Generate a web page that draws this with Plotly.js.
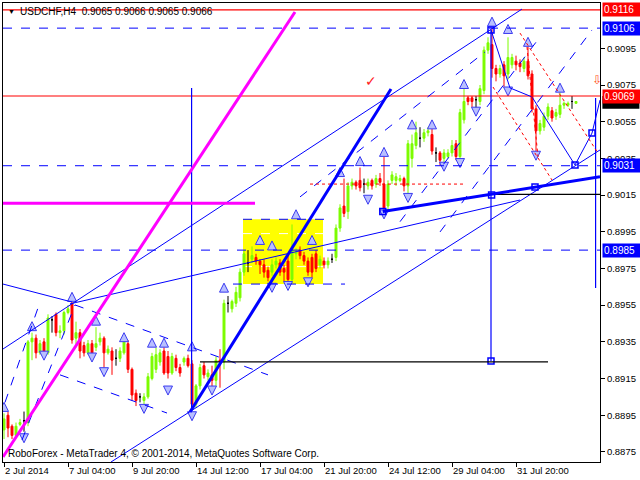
<!DOCTYPE html>
<html><head><meta charset="utf-8">
<script src="https://cdn.plot.ly/plotly-3.0.1.min.js"></script>
<style>html,body{margin:0;padding:0;background:#fff}#chart{width:640px;height:480px}</style>
</head><body><div id="chart"></div>
<script>
// ---- USDCHF H4 candles (bar index 0..143) ----
const openP = [.8887,.8895,.8889,.8884,.8890,.8892,.8891,.8935,.8937,.8929,.8935,.8929,.8947,.8950,.8940,.8941,.8951,.8956,.8937,.8940,
.8933,.8929,.8934,.8932,.8935,.8937,.8929,.8930,.8926,.8926,.8929,.8934,.8920,.8907,.8905,.8903,.8905,.8915,.8920,.8924,
.8930,.8927,.8918,.8926,.8921,.8924,.8926,.8923,.8901,.8911,.8922,.8916,.8917,.8914,.8925,.8924,.8956,.8953,.8956,.8959,
.8973,.8978,.8980,.8981,.8979,.8977,.8974,.8973,.8977,.8978,.8975,.8979,.8969,.8983,.8985,.8982,.8979,.8981,.8983,.8977,
.8979,.8977,.8980,.8981,.8997,.9009,.9006,.9020,.9022,.9023,.9021,.9020,.9023,.9021,.9024,.9021,.9009,.9023,.9023,.9023,
.9024,.9020,.9035,.9042,.9046,.9046,.9049,.9048,.9038,.9038,.9035,.9036,.9038,.9043,.9036,.9056,.9068,.9068,.9067,.9066,
.9072,.9094,.9097,.9084,.9081,.9086,.9081,.9086,.9088,.9087,.9084,.9088,.9081,.9062,.9050,.9052,.9058,.9061,.9058,.9059,
.9064,.9064,.9066,.9065];
const highP = [.8896,.8897,.8890,.8891,.8893,.8897,.8936,.8940,.8939,.8936,.8937,.8950,.8949,.8951,.8944,.8952,.8955,.8957,.8946,.8942,
.8935,.8936,.8936,.8943,.8940,.8938,.8933,.8932,.8931,.8932,.8936,.8936,.8921,.8909,.8907,.8907,.8918,.8929,.8932,.8931,
.8932,.8930,.8929,.8928,.8923,.8927,.8928,.8925,.8912,.8923,.8924,.8920,.8922,.8927,.8931,.8958,.8960,.8958,.8965,.8975,
.8985,.8985,.8987,.8983,.8980,.8980,.8976,.8980,.8981,.8980,.8977,.8983,.8999,.8986,.8987,.8984,.8981,.8983,.8985,.8982,
.8981,.8981,.8983,.8999,.9010,.9024,.9022,.9024,.9023,.9030,.9024,.9024,.9024,.9026,.9027,.9036,.9023,.9028,.9027,.9026,
.9025,.9045,.9048,.9055,.9052,.9051,.9052,.9051,.9041,.9039,.9040,.9040,.9045,.9045,.9062,.9073,.9069,.9069,.9069,.9075,
.9096,.9101,.9106,.9086,.9086,.9088,.9101,.9092,.9091,.9089,.9090,.9096,.9083,.9064,.9056,.9060,.9065,.9063,.9062,.9071,
.9066,.9066,.9069,.9066];
const lowP = [.8882,.8883,.8882,.8883,.8889,.8886,.8889,.8925,.8926,.8928,.8927,.8928,.8940,.8938,.8937,.8939,.8950,.8934,.8932,.8926,
.8927,.8928,.8927,.8930,.8933,.8921,.8928,.8917,.8922,.8924,.8928,.8918,.8903,.8900,.8902,.8899,.8904,.8914,.8918,.8922,
.8917,.8915,.8917,.8919,.8916,.8922,.8921,.8899,.8899,.8909,.8915,.8914,.8907,.8911,.8910,.8920,.8951,.8951,.8954,.8957,
.8971,.8973,.8978,.8977,.8972,.8970,.8968,.8971,.8975,.8971,.8968,.8966,.8967,.8980,.8980,.8977,.8971,.8970,.8973,.8975,
.8975,.8975,.8978,.8979,.8995,.9003,.9002,.9018,.9018,.9017,.9016,.9018,.9018,.9019,.9020,.9006,.9007,.9021,.9020,.9022,
.9017,.9014,.9030,.9040,.9041,.9044,.9047,.9037,.9033,.9031,.9033,.9035,.9036,.9034,.9034,.9054,.9064,.9063,.9060,.9064,
.9070,.9092,.9079,.9077,.9079,.9074,.9078,.9084,.9083,.9082,.9082,.9078,.9060,.9038,.9048,.9050,.9056,.9055,.9056,.9057,
.9062,.9063,.9062,.9065];
const closeP = [.8893,.8888,.8884,.8889,.8891,.8892,.8935,.8937,.8929,.8934,.8929,.8948,.8947,.8940,.8941,.8951,.8953,.8936,.8940,.8930,
.8929,.8934,.8929,.8934,.8937,.8929,.8931,.8925,.8926,.8930,.8935,.8920,.8906,.8903,.8905,.8905,.8916,.8927,.8928,.8929,
.8918,.8918,.8927,.8921,.8918,.8926,.8922,.8901,.8911,.8921,.8917,.8918,.8914,.8925,.8924,.8956,.8956,.8957,.8962,.8973,
.8983,.8978,.8982,.8979,.8977,.8973,.8970,.8977,.8979,.8973,.8973,.8969,.8985,.8984,.8982,.8979,.8973,.8973,.8975,.8980,
.8977,.8979,.8980,.8997,.9008,.9005,.9020,.9022,.9020,.9019,.9021,.9022,.9020,.9024,.9022,.9008,.9021,.9026,.9025,.9024,
.9020,.9043,.9043,.9049,.9046,.9049,.9050,.9039,.9038,.9034,.9038,.9038,.9042,.9036,.9060,.9066,.9066,.9066,.9067,.9073,
.9094,.9098,.9084,.9081,.9084,.9080,.9090,.9090,.9086,.9085,.9088,.9080,.9062,.9050,.9054,.9058,.9063,.9057,.9060,.9064,
.9065,.9065,.9066,.9066];

// x-axis labels every 16 bars
const xTickBars = [0,16,32,48,64,80,96,112,128];
const xTickText = ["2 Jul 2014","7 Jul 04:00","9 Jul 20:00","14 Jul 12:00","17 Jul 04:00","21 Jul 20:00","24 Jul 12:00","29 Jul 04:00","31 Jul 20:00"];
// price scale labels (0.9115 is hidden behind the 0.9116 level label)
const yTickVals = [0.8875,0.8895,0.8915,0.8935,0.8955,0.8975,0.8995,0.9015,0.9035,0.9055,0.9075,0.9095];

// fractal arrows
const fractalUpBar = [0,7,17,23,30,37,40,47,55,64,67,73,77,84,89,95,102,107,115,122,126,131,139];
const fractalUpPrice = [0.8902,0.8946,0.8962,0.8949,0.8940,0.8937,0.8937,0.8935,0.8967,0.8993,0.8990,0.9007,0.8993,0.9030,0.9036,0.9041,0.9056,0.9056,0.9078,0.9112,0.9108,0.9101,0.9076];
const fractalDnBar = [5,10,22,25,35,41,47,52,67,71,76,91,95,101,110,114,118,126,133];
const fractalDnPrice = [0.8880,0.8925,0.8924,0.8916,0.8896,0.8906,0.8892,0.8906,0.8962,0.8963,0.8965,0.9010,0.9002,0.9011,0.9028,0.9030,0.9058,0.9069,0.9034];

// horizontal levels
const redLevels = [0.9116, 0.9069];
const blueDashLevels = [0.9106, 0.9031, 0.8985];
const labelValues = [0.9116, 0.9106, 0.9069, 0.9031, 0.8985];
const labelKinds  = ['red','blue','red','blue','blue'];
const currentPrice = 0.9066;

// drawn objects: [bar0, price0, bar1, price1]
const thinBlueLines = [
  [-0.25,0.89311,129.5,0.91164],
  [26.75,0.88695,149,0.90396],
  [-0.25,0.89665,17,0.89567],
  [16.5,0.89557,129,0.90123],
  [121.75,0.9105,126.5,0.90734],
  [126.5,0.90734,132,0.90685],
  [132,0.90685,142.75,0.90314],
  [142.75,0.90314,147,0.90488],
  [147,0.90488,149,0.90668]
];
const thickBlueLines = [
  [94.7,0.9006,149,0.9025],
  [46.5,0.88968,96.75,0.90728]
];
const blueVerticals = [
  [46.9,0.90734,46.9,0.8898],
  [121.75,0.9105,121.75,0.89246],
  [147.9,0.90679,147.9,0.89644]
];
const blackLines = [
  [49,0.89241,136,0.89241],
  [121.75,0.90154,149,0.90154]
];
const magentaLines = [
  [-0.25,0.90105,62.75,0.90105],
  [-0.25,0.88723,72.75,0.91148]
];
const blueDashLines = [
  [17.75,0.89551,66,0.8917],
  [14,0.8917,40.75,0.88962],
  [0.25,0.8902,8.5,0.89535],
  [4.5,0.88815,17.75,0.89551],
  [74,0.9014,120.25,0.9093],
  [99,0.90005,134,0.91012],
  [109,0.89949,147,0.9105],
  [59.75,0.90018,82.25,0.90018],
  [57.25,0.89665,85.25,0.89665]
];
const redDotLines = [
  [129,0.91033,148.5,0.90379],
  [130.75,0.90957,133.5,0.90358],
  [122.25,0.90739,137,0.90232],
  [76.5,0.9021,114.75,0.9021]
];
const whiteDashLines = [
  [59.75,0.8994,79.75,0.8994],
  [59.75,0.8976,79.75,0.8976]
];
const yellowBox = [59.75,0.90018,79.75,0.89665];
const anchorBar = [121.75,121.75,94.7,121.9,132.75,142.75,147];
const anchorPrice = [0.9105,0.89246,0.9006,0.9015,0.90194,0.90314,0.90488];

// ---- build ----
const Y_RANGE = [0.88695,0.91197];
const bars = openP.map((_,i)=>i);
function subset(pred){
  const r={x:[],open:[],high:[],low:[],close:[]};
  bars.forEach(i=>{ if(pred(i)){ r.x.push(i); r.open.push(openP[i]); r.high.push(highP[i]); r.low.push(lowP[i]); r.close.push(closeP[i]); } });
  return r;
}
function candle(d,col){
  return Object.assign({type:'candlestick', hoverinfo:'skip',
    increasing:{line:{color:col,width:1},fillcolor:col},
    decreasing:{line:{color:col,width:1},fillcolor:col}}, d);
}
const GREEN='#7CFC00', RED='#FF0000';
const traces = [
  candle(subset(i=>closeP[i]>openP[i]),GREEN),
  candle(subset(i=>closeP[i]<openP[i]),RED),
  candle(subset(i=>closeP[i]===openP[i]),'#000000'),
  {type:'scatter',mode:'markers',x:fractalUpBar,y:fractalUpPrice,hoverinfo:'skip',
   marker:{symbol:'arrow-up',size:9,color:'#b8bfff',line:{color:'#3a3af0',width:1}}},
  {type:'scatter',mode:'markers',x:fractalDnBar,y:fractalDnPrice,hoverinfo:'skip',
   marker:{symbol:'arrow-down',size:9,color:'#b8bfff',line:{color:'#3a3af0',width:1}}},
  {type:'scatter',mode:'markers',x:anchorBar,y:anchorPrice,hoverinfo:'skip',
   marker:{symbol:'square-open',size:6,color:'#0000ff',line:{width:1.5}}}
];

const shapes = [];
function seg(a,color,width,dash,layer){
  shapes.push({type:'line',xref:'x',yref:'y',x0:a[0],y0:a[1],x1:a[2],y1:a[3],
    line:{color:color,width:width,dash:dash||'solid'},layer:layer||'above'});
}
shapes.push({type:'rect',xref:'x',yref:'y',x0:yellowBox[0],y0:yellowBox[1],x1:yellowBox[2],y1:yellowBox[3],
  fillcolor:'#ffff00',line:{width:0},layer:'below'});
whiteDashLines.forEach(a=>seg(a,'#ffffff',1,'dash','below'));
redLevels.forEach(p=>shapes.push({type:'line',xref:'paper',yref:'y',x0:0,x1:1,y0:p,y1:p,line:{color:RED,width:1.2}}));
blueDashLevels.forEach(p=>shapes.push({type:'line',xref:'paper',yref:'y',x0:0,x1:1,y0:p,y1:p,line:{color:'#0000ff',width:1,dash:'dash'}}));
thinBlueLines.forEach(a=>seg(a,'#0000ff',1));
blueDashLines.forEach(a=>seg(a,'#0000ff',1,'dash'));
blueVerticals.forEach(a=>seg(a,'#0000ff',1.2));
blackLines.forEach(a=>seg(a,'#000000',1.2));
redDotLines.forEach(a=>seg(a,RED,1,'dot'));
thickBlueLines.forEach(a=>seg(a,'#0000ff',3));
magentaLines.forEach(a=>seg(a,'#ff00ff',3));
// current-price marker on the scale (mostly hidden behind the 0.9069 label)
const toPaper = p => (p - Y_RANGE[0]) / (Y_RANGE[1] - Y_RANGE[0]);
shapes.push({type:'rect',xref:'paper',yref:'paper',x0:1.004,x1:1.066,
  y0:toPaper(currentPrice-0.0004),y1:toPaper(currentPrice+0.0003),
  fillcolor:'#000000',line:{width:0},layer:'above'});

const labelColors = {red:'#ff0000', blue:'#0000ff', black:'#000000'};
const annotations = labelValues.map((v,k)=>({
  xref:'paper',yref:'y',x:1,y:v,xanchor:'left',yanchor:'middle',xshift:2,
  text:v.toFixed(4),showarrow:false,bgcolor:labelColors[labelKinds[k]],
  font:{color:'#ffffff',size:10,family:'Liberation Sans, Arial, sans-serif'},
  width:35,height:11,align:'left',borderpad:1
}));
annotations.push(
  {xref:'paper',yref:'paper',x:0,y:1,xanchor:'left',yanchor:'top',xshift:3,yshift:-3,showarrow:false,
   text:'▼',font:{size:7,color:'#000'}},
  {xref:'paper',yref:'paper',x:0,y:1,xanchor:'left',yanchor:'top',xshift:15,yshift:-1,showarrow:false,
   text:'USDCHF,H4  0.9065 0.9066 0.9065 0.9066',font:{size:10,color:'#000'}},
  {xref:'paper',yref:'paper',x:0,y:0,xanchor:'left',yanchor:'bottom',xshift:3,yshift:1,showarrow:false,
   text:'RoboForex - MetaTrader 4, © 2001-2014, MetaQuotes Software Corp.',font:{size:10,color:'#000'}},
  {xref:'x',yref:'y',x:91.8,y:0.9077,showarrow:false,text:'✓',font:{size:14,color:'#ff2020'}},
  {xref:'x',yref:'y',x:148.3,y:0.9078,showarrow:false,text:'⇩',font:{size:12,color:'#ff5020'}}
);

const layout = {
  width:640,height:480,
  margin:{l:3,r:40,t:3,b:18,pad:0},
  paper_bgcolor:'#ffffff',plot_bgcolor:'#ffffff',
  showlegend:false,
  font:{family:'Liberation Sans, Arial, sans-serif',size:9,color:'#000'},
  xaxis:{range:[-0.25,149],tickmode:'array',tickvals:xTickBars,ticktext:xTickText,
    ticks:'outside',ticklen:4,tickcolor:'#000',showline:true,mirror:true,linecolor:'#000',linewidth:1,
    showgrid:false,zeroline:false,rangeslider:{visible:false},ticklabelposition:'outside right',
    tickfont:{size:9.5,color:'#000'},fixedrange:true},
  yaxis:{range:Y_RANGE,side:'right',tickmode:'array',tickvals:yTickVals,tickformat:'.4f',
    ticks:'outside',ticklen:4,tickcolor:'#000',showline:true,mirror:true,linecolor:'#000',linewidth:1,
    showgrid:false,zeroline:false,tickfont:{size:9.5,color:'#000'},fixedrange:true},
  shapes:shapes,annotations:annotations
};
Plotly.newPlot('chart',traces,layout,{staticPlot:true,displayModeBar:false});
</script></body></html>
